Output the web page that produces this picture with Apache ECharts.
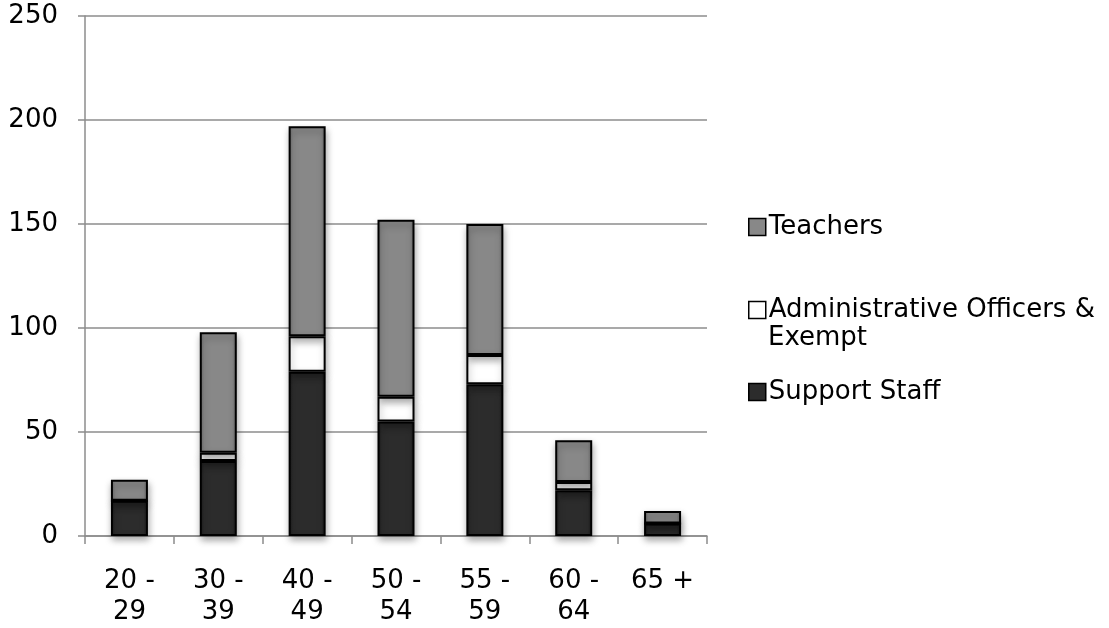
<!DOCTYPE html>
<html>
<head>
<meta charset="utf-8">
<script src="https://cdn.jsdelivr.net/npm/echarts@6/dist/echarts.min.js"></script>
<style>
  html, body { margin: 0; padding: 0; background: #fff; }
  #chart { width: 1109px; height: 628px; }
</style>
</head>
<body>
<div id="chart"></div>
<script>
// Staff headcount by age band, stacked by staff group
const ageBands = ['20 -\n29', '30 -\n39', '40 -\n49', '50 -\n54', '55 -\n59', '60 -\n64', '65 +'];
const supportStaff = [17, 36, 79, 55, 73, 22, 6];
const adminOfficers = [0, 4, 17, 12, 14, 4, 0];
const teachers = [10, 58, 101, 85, 63, 20, 6];
const yTicks = { min: 0, max: 250, interval: 50 };

const FONT = 'DejaVu Sans';
const FONT_SIZE = 26;
const AXIS_GREY = '#8c8c8c';

function bevel(mid, edge) {
  return new echarts.graphic.LinearGradient(0, 0, 1, 0, [
    { offset: 0, color: edge },
    { offset: 0.12, color: mid },
    { offset: 0.88, color: mid },
    { offset: 1, color: edge }
  ]);
}

const barShadow = {
  shadowBlur: 7,
  shadowOffsetX: 1,
  shadowOffsetY: 4,
  shadowColor: 'rgba(0,0,0,0.35)'
};

const legendBase = {
  orient: 'vertical',
  left: 748,
  itemWidth: 17,
  itemHeight: 17,
  itemGap: 4,
  icon: 'rect',
  selectedMode: false,
  padding: 0,
  itemStyle: { borderColor: '#000', borderWidth: 1.5 },
  textStyle: { fontFamily: FONT, fontSize: FONT_SIZE, color: '#000', padding: [0, 0, 0, -2] }
};

const chart = echarts.init(document.getElementById('chart'), null, { renderer: 'canvas' });

chart.setOption({
  animation: false,
  backgroundColor: '#fff',
  grid: { left: 85, right: 402, top: 16, bottom: 90, containLabel: false },
  legend: [
    Object.assign({}, legendBase, { top: 214, data: ['Teachers'] }),
    Object.assign({}, legendBase, {
      top: 297,
      data: ['Administrative Officers & Exempt'],
      formatter: () => 'Administrative Officers &'
    }),
    Object.assign({}, legendBase, { top: 379, data: ['Support Staff'] })
  ],
  // second line of the wrapped legend label
  graphic: [{
    type: 'text',
    left: 768,
    top: 325,
    style: { text: 'Exempt', fontFamily: FONT, fontSize: FONT_SIZE, fill: '#000' }
  }],
  xAxis: {
    type: 'category',
    data: ageBands,
    axisLine: { lineStyle: { color: AXIS_GREY, width: 1.5 } },
    axisTick: { show: true, length: 8, lineStyle: { color: AXIS_GREY, width: 1.5 } },
    axisLabel: { fontFamily: FONT, fontSize: FONT_SIZE, color: '#000', lineHeight: 31.5, margin: 29 }
  },
  yAxis: {
    type: 'value',
    min: yTicks.min,
    max: yTicks.max,
    interval: yTicks.interval,
    axisLine: { show: true, lineStyle: { color: AXIS_GREY, width: 1.5 } },
    axisTick: { show: true, length: 7, lineStyle: { color: AXIS_GREY, width: 1.5 } },
    splitLine: { lineStyle: { color: AXIS_GREY, width: 1.5 } },
    axisLabel: { fontFamily: FONT, fontSize: FONT_SIZE, color: '#000', margin: 27 }
  },
  series: [
    {
      name: 'Support Staff',
      type: 'bar',
      stack: 'staff',
      barWidth: 37,
      data: supportStaff,
      itemStyle: Object.assign({ color: bevel('#2c2c2c', '#1a1a1a'), borderColor: '#000', borderWidth: 2 }, barShadow)
    },
    {
      name: 'Administrative Officers & Exempt',
      type: 'bar',
      stack: 'staff',
      barWidth: 37,
      data: adminOfficers,
      itemStyle: Object.assign({ color: '#ffffff', borderColor: '#000', borderWidth: 2 }, barShadow)
    },
    {
      name: 'Teachers',
      type: 'bar',
      stack: 'staff',
      barWidth: 37,
      data: teachers,
      itemStyle: Object.assign({ color: bevel('#888888', '#6a6a6a'), borderColor: '#000', borderWidth: 2 }, barShadow)
    }
  ]
});
</script>
</body>
</html>
